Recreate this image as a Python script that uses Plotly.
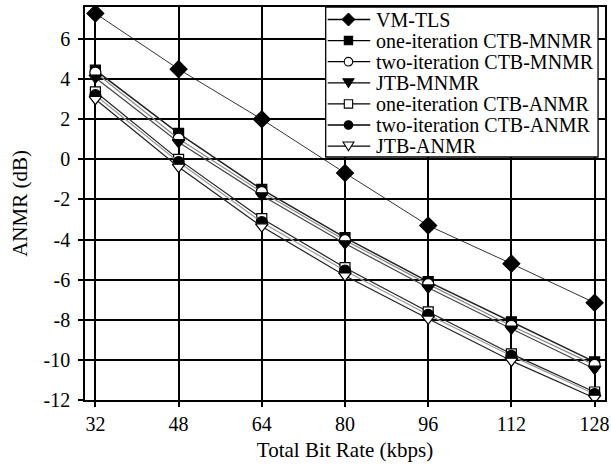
import plotly.graph_objects as go

# Total bit rate (kbps)
bit_rate = [32, 48, 64, 80, 96, 112, 128]

# ANMR (dB) per method
vm_tls = [7.28, 4.5, 2.0, -0.68, -3.3, -5.2, -7.15]
one_iter_ctb_mnmr = [4.45, 1.3, -1.5, -3.9, -6.1, -8.1, -10.1]
two_iter_ctb_mnmr = [4.33, 1.03, -1.63, -4.03, -6.22, -8.3, -10.25]
jtb_mnmr = [4.07, 0.85, -1.8, -4.2, -6.4, -8.45, -10.45]
one_iter_ctb_anmr = [3.37, 0.0, -2.95, -5.4, -7.6, -9.7, -11.6]
two_iter_ctb_anmr = [3.2, -0.13, -3.13, -5.55, -7.75, -9.8, -11.7]
jtb_anmr = [3.0, -0.38, -3.35, -5.8, -7.95, -10.05, -11.9]

x_ticks = [32, 48, 64, 80, 96, 112, 128]
y_ticks = [-12, -10, -8, -6, -4, -2, 0, 2, 4, 6]

series = [
    ("VM-TLS", vm_tls, "diamond", 13, "black", 0.8, "black"),
    ("one-iteration CTB-MNMR", one_iter_ctb_mnmr, "square", 10, "black", 1.5, "#222222"),
    ("two-iteration CTB-MNMR", two_iter_ctb_mnmr, "circle", 11, "white", 1.2, "#888888"),
    ("JTB-MNMR", jtb_mnmr, "triangle-down", 11, "black", 1.2, "#444444"),
    ("one-iteration CTB-ANMR", one_iter_ctb_anmr, "square", 10, "white", 1.2, "#222222"),
    ("two-iteration CTB-ANMR", two_iter_ctb_anmr, "circle", 11, "black", 1.2, "#999999"),
    ("JTB-ANMR", jtb_anmr, "triangle-down", 11, "white", 1.2, "#222222"),
]

W, H = 611, 466
ML, MR, MT, MB = 85, 1, 7, 66
PW, PH = W - ML - MR, H - MT - MB
font_family = "Liberation Serif"
tick_size = 20
label_size = 21
legend_size = 20

fig = go.Figure()
for name, vals, sym, size, fill, lw, lc in series:
    fig.add_trace(go.Scatter(
        x=bit_rate, y=vals, name=name, mode="lines+markers",
        line=dict(color=lc, width=lw),
        marker=dict(symbol=sym, size=size, color=fill,
                    line=dict(color="black", width=1.2)),
        showlegend=False,
    ))


# Helpers converting pixel positions inside the figure to paper fractions
def px(xp):
    return (xp - ML) / PW


def py(yp):
    return (H - MB - yp) / PH


# Hand-built legend box: boxed list with line + symbol samples
shapes = []
annotations = []
box_l, box_r, box_t, box_b = 328, 603, 7, 157
shapes.append(dict(type="rect", xref="paper", yref="paper", layer="above",
                   x0=px(box_l), x1=px(box_r), y0=py(box_b), y1=py(box_t),
                   fillcolor="white", line=dict(color="black", width=1.3)))

row_y = [19.5 + 21.1 * i for i in range(len(series))]
seg_l, seg_r, sym_x, text_x = 330, 373, 351, 377


def poly(points):
    return "M " + " L ".join(f"{px(a):.5f},{py(b):.5f}" for a, b in points) + " Z"


for (name, _, sym, _, fill, _, _), yc in zip(series, row_y):
    shapes.append(dict(type="line", xref="paper", yref="paper", layer="above",
                       x0=px(seg_l), x1=px(seg_r), y0=py(yc), y1=py(yc),
                       line=dict(color="black", width=1.3)))
    if sym == "diamond":
        r = 6.5
        path = poly([(sym_x, yc - r), (sym_x + r, yc), (sym_x, yc + r), (sym_x - r, yc)])
        shapes.append(dict(type="path", xref="paper", yref="paper", layer="above",
                           path=path, fillcolor=fill, line=dict(color="black", width=1)))
    elif sym == "square":
        r = 4.2
        shapes.append(dict(type="rect", xref="paper", yref="paper", layer="above",
                           x0=px(sym_x - r), x1=px(sym_x + r), y0=py(yc + r), y1=py(yc - r),
                           fillcolor=fill, line=dict(color="black", width=1.1)))
    elif sym == "circle":
        r = 4.3
        shapes.append(dict(type="circle", xref="paper", yref="paper", layer="above",
                           x0=px(sym_x - r), x1=px(sym_x + r), y0=py(yc + r), y1=py(yc - r),
                           fillcolor=fill, line=dict(color="black", width=1.1)))
    else:
        r = 5.5
        path = poly([(sym_x - r, yc - r * 0.75), (sym_x + r, yc - r * 0.75), (sym_x, yc + r * 0.85)])
        shapes.append(dict(type="path", xref="paper", yref="paper", layer="above",
                           path=path, fillcolor=fill, line=dict(color="black", width=1.1)))
    annotations.append(dict(xref="paper", yref="paper", x=px(text_x), y=py(yc),
                            xanchor="left", yanchor="middle", showarrow=False,
                            text=name, font=dict(family=font_family, size=legend_size, color="black")))

fig.update_layout(
    width=W, height=H,
    margin=dict(l=ML, r=MR, t=MT, b=MB),
    paper_bgcolor="white", plot_bgcolor="white",
    font=dict(family=font_family, size=tick_size, color="black"),
    showlegend=False,
    shapes=shapes,
    annotations=annotations,
)

fig.update_xaxes(
    range=[30, 130], tickvals=x_ticks, ticktext=[str(v) for v in x_ticks],
    showgrid=True, gridcolor="black", gridwidth=1.5,
    showline=True, linecolor="black", linewidth=1.5, mirror=True,
    ticks="outside", ticklen=5, tickcolor="black", tickwidth=1.5,
    zeroline=False, ticklabeloverflow="allow",
    title=dict(text="Total Bit Rate (kbps)", font=dict(family=font_family, size=label_size), standoff=9),
    tickfont=dict(family=font_family, size=tick_size),
)
fig.update_yaxes(
    range=[-12, 7.6], tickvals=y_ticks, ticktext=[str(v) for v in y_ticks],
    showgrid=True, gridcolor="black", gridwidth=1.5,
    showline=True, linecolor="black", linewidth=1.5, mirror=True,
    ticks="outside", ticklen=5, tickcolor="black", tickwidth=1.5,
    zeroline=False, ticklabelstandoff=4,
    title=dict(text="ANMR (dB)", font=dict(family=font_family, size=label_size), standoff=10),
    tickfont=dict(family=font_family, size=tick_size),
)

fig.write_html("out.html")
